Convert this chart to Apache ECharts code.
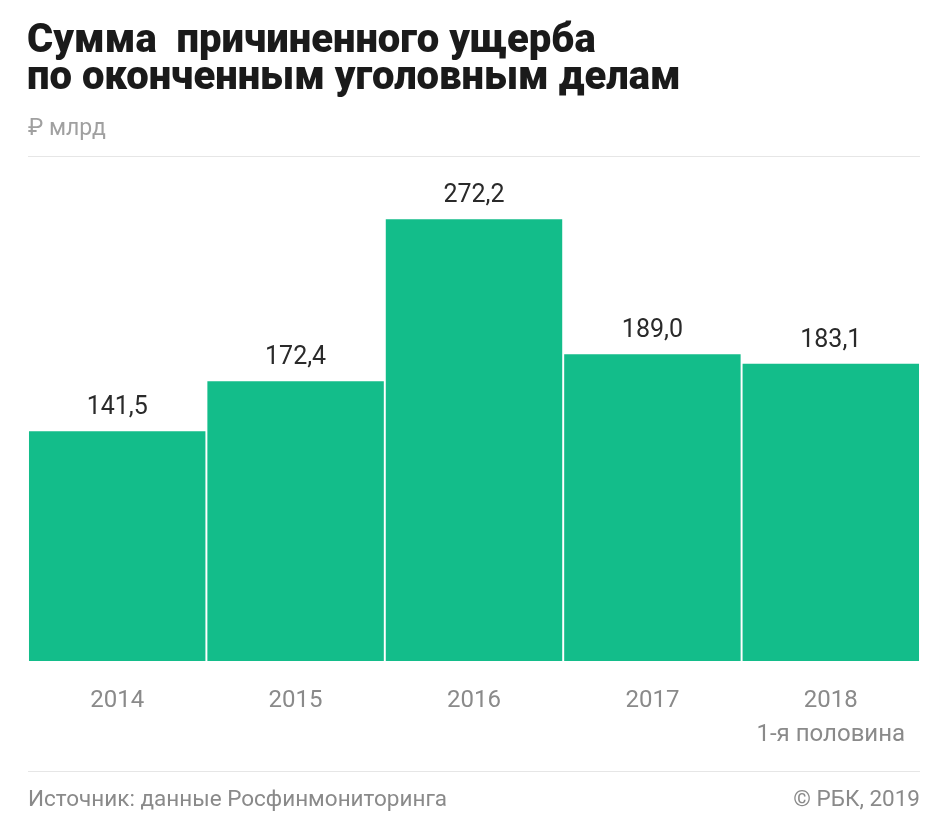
<!DOCTYPE html>
<html><head><meta charset="utf-8">
<script src="https://cdn.jsdelivr.net/npm/echarts@6/dist/echarts.min.js"></script>
<style>html,body{margin:0;padding:0;background:#fff}#c{width:945px;height:821px}</style>
</head><body><div id="c"></div>
<script>
var categories = ['2014', '2015', '2016', '2017', '2018\n1-я половина'];
var values = [141.5, 172.4, 272.2, 189.0, 183.1];
var titleText = 'Сумма  причиненного ущерба\nпо оконченным уголовным делам';
var unitText = '₽ млрд';
var sourceText = 'Источник: данные Росфинмониторинга';
var copyText = '© РБК, 2019';

var chart = echarts.init(document.getElementById('c'), null, {renderer: 'canvas'});
chart.setOption({
  backgroundColor: '#fff',
  animation: false,
  title: [{
    text: titleText, left: 22, top: 18,
    textStyle: {fontFamily: 'Roboto', fontWeight: 900, fontSize: 40, lineHeight: 37, color: '#1a1a1a'}
  }, {
    text: unitText, left: 23, top: 113,
    textStyle: {fontFamily: 'Roboto', fontWeight: 'normal', fontSize: 23, color: '#a0a0a0'}
  }, {
    text: sourceText, left: 23, top: 784,
    textStyle: {fontFamily: 'Roboto', fontWeight: 'normal', fontSize: 22.5, color: '#8a8a8a'}
  }, {
    text: copyText, right: 20, top: 784,
    textStyle: {fontFamily: 'Roboto', fontWeight: 'normal', fontSize: 22.5, color: '#8a8a8a'}
  }],
  graphic: [
    {type: 'line', shape: {x1: 28, y1: 156.5, x2: 920, y2: 156.5}, style: {stroke: '#e6e6e6', lineWidth: 1}},
    {type: 'line', shape: {x1: 28, y1: 771.5, x2: 920, y2: 771.5}, style: {stroke: '#e6e6e6', lineWidth: 1}}
  ],
  grid: {left: 28, right: 25, top: 174, bottom: 160, containLabel: false},
  xAxis: {
    type: 'category', data: categories,
    axisLine: {show: false}, axisTick: {show: false},
    axisLabel: {margin: 23, fontFamily: 'Roboto', fontSize: 24, lineHeight: 34, color: '#8a8a8a', interval: 0}
  },
  yAxis: {type: 'value', min: 0, max: 300, show: false, splitLine: {show: false}},
  series: [{
    type: 'bar', data: values, barCategoryGap: '1.1%',
    itemStyle: {color: '#13bd8a'},
    label: {
      show: true, position: 'top', distance: 11,
      fontFamily: 'Roboto', fontSize: 25, color: '#2a2a2a',
      formatter: function (p) { return p.value.toFixed(1).replace('.', ','); }
    }
  }]
});
</script></body></html>
